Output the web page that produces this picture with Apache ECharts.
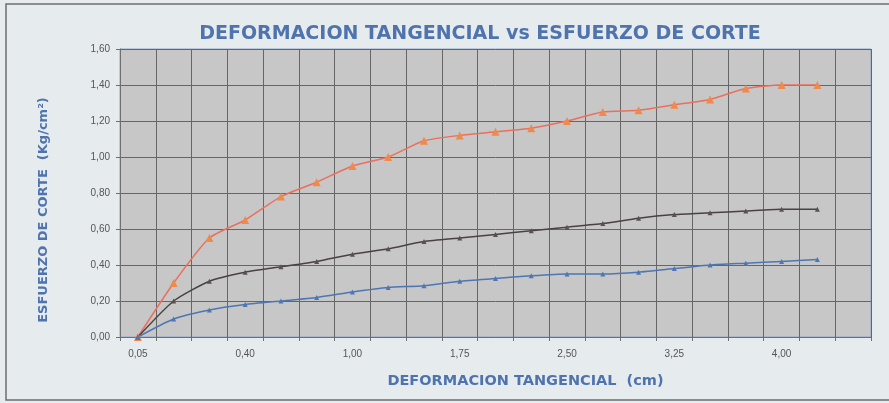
<!DOCTYPE html>
<html>
<head>
<meta charset="utf-8">
<script src="https://cdn.jsdelivr.net/npm/echarts@6/dist/echarts.min.js"></script>
<style>
  html, body { margin: 0; padding: 0; background: #e6ebee; }
  #chart { width: 889px; height: 403px; }
</style>
</head>
<body>
<div id="chart"></div>
<script>
// deformacion tangencial (cm)
const categories = ['0,05', '0,10', '0,20', '0,40', '0,60', '0,80', '1,00', '1,25', '1,50', '1,75',
  '2,00', '2,25', '2,50', '2,75', '3,00', '3,25', '3,50', '3,75', '4,00', '4,25', '4,50']

// esfuerzo de corte (Kg/cm2)
const serieAlta = [0.00, 0.30, 0.55, 0.65, 0.78, 0.86, 0.95, 1.00, 1.09, 1.12,
  1.14, 1.16, 1.20, 1.25, 1.26, 1.29, 1.32, 1.38, 1.40, 1.40]
const serieMedia = [0.00, 0.20, 0.31, 0.36, 0.39, 0.42, 0.46, 0.49, 0.53, 0.55,
  0.57, 0.59, 0.61, 0.63, 0.66, 0.68, 0.69, 0.70, 0.71, 0.71]
const serieBaja = [0.00, 0.10, 0.15, 0.18, 0.20, 0.22, 0.25, 0.275, 0.285, 0.31,
  0.325, 0.34, 0.35, 0.35, 0.36, 0.38, 0.40, 0.41, 0.42, 0.43]

const yTicks = ['0,00', '0,20', '0,40', '0,60', '0,80', '1,00', '1,20', '1,40', '1,60']

const blue = '#4f74ad'
const myChart = echarts.init(document.getElementById('chart'))

function line (data, lineColor, markColor, size) {
  return {
    type: 'line',
    data: data,
    smooth: 0.2,
    symbol: 'triangle',
    symbolSize: size,
    lineStyle: { color: lineColor, width: 1.5 },
    itemStyle: { color: markColor },
    z: 3
  }
}

myChart.setOption({
  backgroundColor: '#e6ebee',
  animation: false,
  title: {
    text: 'DEFORMACION TANGENCIAL vs ESFUERZO DE CORTE',
    left: 475,
    textAlign: 'center',
    top: 20,
    textStyle: {
      fontFamily: 'DejaVu Sans',
      fontWeight: 'bold',
      fontSize: 19,
      color: blue
    }
  },
  graphic: [{
    type: 'rect',
    shape: { x: 6, y: 4, width: 900, height: 396 },
    style: { fill: 'none', stroke: '#6d6d6d', lineWidth: 1.5 },
    silent: true
  }],
  grid: {
    left: 120,
    right: 18,
    top: 49,
    bottom: 66,
    show: true,
    backgroundColor: '#c7c7c7',
    borderColor: '#8ea7c9',
    borderWidth: 1
  },
  xAxis: {
    type: 'category',
    data: categories,
    boundaryGap: true,
    name: 'DEFORMACION TANGENCIAL  (cm)',
    nameLocation: 'middle',
    nameGap: 37,
    nameTextStyle: {
      fontFamily: 'DejaVu Sans',
      fontWeight: 'bold',
      fontSize: 14.5,
      color: blue,
      padding: [0, 0, 0, 60]
    },
    axisLine: { lineStyle: { color: '#6f6f6f' } },
    axisTick: { show: true, interval: 0, length: 4, lineStyle: { color: '#6f6f6f' } },
    axisLabel: {
      interval: 2,
      margin: 12,
      fontFamily: 'Liberation Sans',
      fontSize: 10,
      color: '#555555'
    },
    splitLine: { show: true, interval: 0, lineStyle: { color: '#666666', width: 1 } }
  },
  yAxis: {
    type: 'value',
    min: 0,
    max: 1.6,
    interval: 0.2,
    name: 'ESFUERZO DE CORTE  (Kg/cm²)',
    nameLocation: 'middle',
    nameGap: 70,
    nameTextStyle: {
      fontFamily: 'DejaVu Sans',
      fontWeight: 'bold',
      fontSize: 13,
      color: blue,
      padding: [0, 34, 0, 0]
    },
    axisLine: { show: true, lineStyle: { color: '#6f6f6f' } },
    axisTick: { show: true, length: 4, lineStyle: { color: '#6f6f6f' } },
    axisLabel: {
      margin: 10,
      fontFamily: 'Liberation Sans',
      fontSize: 10,
      color: '#555555',
      formatter: function (v) { return yTicks[Math.round(v / 0.2)] }
    },
    splitLine: { show: true, lineStyle: { color: '#666666', width: 1 } }
  },
  series: [
    line(serieAlta, '#ec6f5c', '#ee8a4c', 8),
    line(serieMedia, '#4a4242', '#5a5050', 5),
    line(serieBaja, '#4d76b3', '#4d76b3', 5)
  ]
})
window.addEventListener('resize', function () {
  myChart.resize()
})
</script>
</body>
</html>
